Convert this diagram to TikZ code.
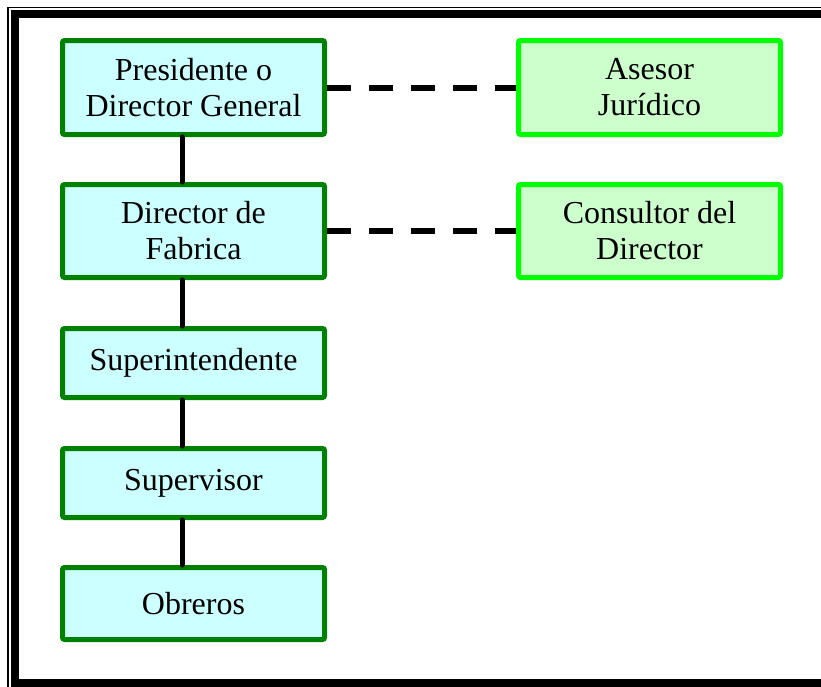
\documentclass[tikz,border=0pt]{standalone}
\usepackage{fontspec}
\setmainfont{Liberation Serif}
\usepackage{xcolor}
\usepackage{tikz}
\usetikzlibrary{calc,positioning}
\definecolor{boxc}{HTML}{008000}
\definecolor{boxbg}{HTML}{CCFFFF}
\definecolor{staffc}{HTML}{00FF00}
\definecolor{staffbg}{HTML}{CCFFCC}
\tikzset{
  rank/.style={draw=boxc,line width=5pt,rounded corners=2pt,fill=boxbg,align=center,
    minimum width=262pt,inner sep=0pt,font=\fontsize{32}{36}\selectfont},
  staff/.style={rank,draw=staffc,fill=staffbg},
  link/.style={line width=5pt,black,line cap=round},
  advice/.style={line width=6pt,black,dash pattern=on 24pt off 18pt}
}

\begin{document}
\begin{tikzpicture}[x=1pt,y=-1pt]
\useasboundingbox (0,0) rectangle (821,686);
\begin{scope}
\clip (0,0) rectangle (821,686);
\fill[white] (0,0) rectangle (821,686);
\draw[line width=1.2pt] (8,7.5) rectangle (840,700);
\draw[line width=8pt] (15,14) rectangle (832,683);
\end{scope}
\node[rank,minimum height=94pt] (pres) at (193.5,87.5) {Presidente o\\Director General};
\node[rank,minimum height=93pt] (dir) at (193.5,231) {Director de\\Fabrica};
\node[rank,minimum height=69pt] (sup) at (193.5,363) {Superintendente};
\node[rank,minimum height=69pt] (supv) at (193.5,483) {Supervisor};
\node[rank,minimum height=72pt] (obr) at (193.5,603.5) {Obreros};
\node[staff,minimum height=94pt] (ases) at (649.5,87.5) {Asesor\\Jurídico};
\node[staff,minimum height=93pt] (cons) at (649.5,231) {Consultor del\\Director};
% line of command
\foreach \a/\b in {pres/dir,dir/sup,sup/supv,supv/obr}
  \draw[link] ([xshift=-11.5pt]\a.south) -- ([xshift=-11.5pt]\b.north);
% advice
\draw[advice] (pres.east) -- (ases.west);
\draw[advice] (dir.east) -- (cons.west);
\end{tikzpicture}
\end{document}
